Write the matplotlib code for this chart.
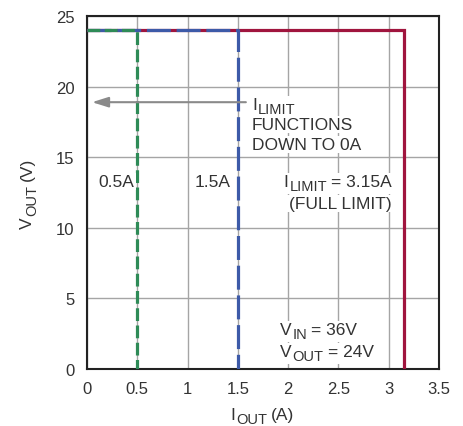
import numpy as np
import matplotlib.pyplot as plt
from matplotlib import font_manager
from matplotlib.transforms import IdentityTransform, Bbox
from matplotlib.patches import Rectangle

names = {f.name for f in font_manager.fontManager.ttflist}
fam = ['Liberation Sans Narrow', 'Liberation Sans', 'DejaVu Sans']
fam = [f for f in fam if f in names] or ['DejaVu Sans']
plt.rcParams['font.family'] = fam

# data
red_i = [0, 3.15, 3.15]
red_v = [24, 24, 0]
blue_i = [0, 1.5, 1.5]
blue_v = [24, 24, 0]
green_i = [0, 0.5, 0.5]
green_v = [24, 24, 0]
xticks = [0, 0.5, 1, 1.5, 2, 2.5, 3, 3.5]
xticklabels = ['0', '0.5', '1', '1.5', '2', '2.5', '3', '3.5']
yticks = [0, 5, 10, 15, 20, 25]

fig = plt.figure(figsize=(4.64, 4.27), dpi=100)
ax = fig.add_axes([0.1875, 0.1335, 0.7585, 0.8265])

ax.plot(red_i, red_v, color='#a0153e', lw=2.3, solid_joinstyle='miter', zorder=3)
ax.plot(blue_i, blue_v, color='#3d5aa8', lw=2.3, dashes=(7.5, 1.8), zorder=4)
ax.plot(green_i, green_v, color='#2e8b57', lw=2.3, dashes=(4, 1.4), zorder=5)

ax.set_xlim(0, 3.5)
ax.set_ylim(0, 25)
ax.set_xticks(xticks)
ax.set_xticklabels(xticklabels)
ax.set_yticks(yticks)
ax.grid(True, color='#a5a5a5', lw=1)
ax.tick_params(length=0, labelsize=12, colors='#333333', pad=9)
for s in ax.spines.values():
    s.set_linewidth(1.5)
    s.set_color('#222222')

ax.annotate('', xy=(0.05, 18.9), xytext=(1.58, 18.9),
            arrowprops=dict(arrowstyle='-|>,head_length=0.7,head_width=0.22',
                            color='#8a8a8a', lw=1.5,
                            mutation_scale=14, shrinkA=0, shrinkB=0), zorder=6)

tc = '#333333'
fs = 12.5
sub = 10.5
renderer = fig.canvas.get_renderer()


def rich(x, y, parts, ha='left', rot=0, box=True):
    # parts: (text, size, baseline shift px, gap before px); x, y in pixels
    arts = []
    for s, size, dy, gap in parts:
        t = fig.text(0, 0, s, fontsize=size, color=tc, ha='left', va='baseline',
                     transform=IdentityTransform(), zorder=7)
        w = t.get_window_extent(renderer).width
        arts.append((t, w, dy, gap))
    total = sum(w + g for _, w, _, g in arts)
    pos = {'left': 0, 'center': -total / 2, 'right': -total}[ha]
    a = np.deg2rad(rot)
    u = np.array([np.cos(a), np.sin(a)])
    n = np.array([-np.sin(a), np.cos(a)])
    for t, w, dy, gap in arts:
        pos += gap
        p = np.array([x, y]) + pos * u + dy * n
        t.set_position(p)
        t.set_rotation(rot)
        t.set_rotation_mode('anchor')
        pos += w
    if box:
        bb = Bbox.union([t.get_window_extent(renderer) for t, *_ in arts])
        fig.patches.append(Rectangle((bb.x0 - 2, bb.y0 - 1), bb.width + 4, bb.height + 2,
                                     transform=IdentityTransform(), facecolor='white',
                                     edgecolor='none', zorder=6.5, figure=fig))


def dpx(xv, yv):
    return ax.transData.transform((xv, yv))


H = 427
rich(*dpx(1.64, 18.39), [('I', fs, 0, 0), ('LIMIT', sub, -4, 1)])
rich(*dpx(1.64, 17.0), [('FUNCTIONS', fs, 0, 0)])
rich(*dpx(1.64, 15.6), [('DOWN TO 0A', fs, 0, 0)])
rich(*dpx(0.29, 12.93), [('0.5A', fs, 0, 0)], ha='center')
rich(*dpx(1.25, 12.93), [('1.5A', fs, 0, 0)], ha='center')
rich(*dpx(3.03, 12.93), [('I', fs, 0, 0), ('LIMIT', sub, -4, 1), ('= 3.15A', fs, 0, 4)], ha='right')
rich(*dpx(3.03, 11.4), [('(FULL LIMIT)', fs, 0, 0)], ha='right')
rich(*dpx(1.92, 2.49), [('V', fs, 0, 0), ('IN', sub, -4, 1), ('= 36V', fs, 0, 4)])
rich(*dpx(1.92, 0.92), [('V', fs, 0, 0), ('OUT', sub, -4, 1), ('= 24V', fs, 0, 4)])

# axis labels
rich(262, H - 420, [('I', fs, 0, 0), ('OUT', sub, -4, 1), ('(A)', fs, 0, 4)],
     ha='center', box=False)
rich(32, H - 193.5, [('V', fs, 0, 0), ('OUT', sub, -4, 1), ('(V)', fs, 0, 4)],
     ha='center', rot=90, box=False)

fig.savefig('out.png', dpi=100)
